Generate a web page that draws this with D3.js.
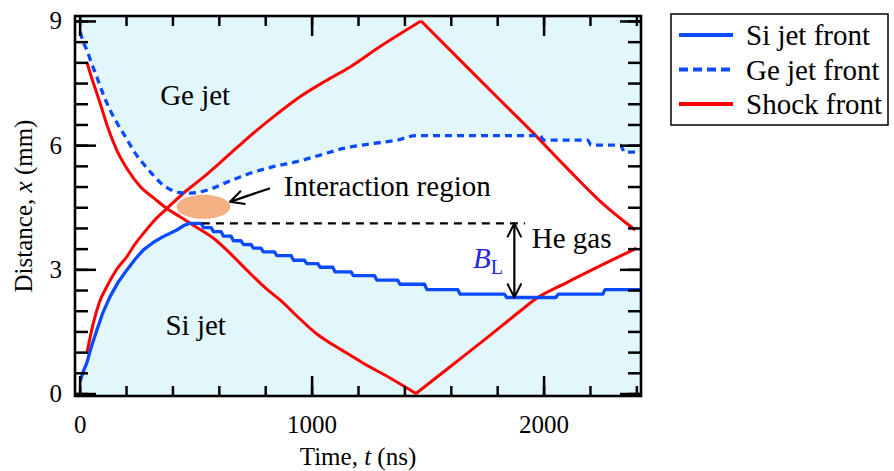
<!DOCTYPE html>
<head>
  <meta charset="utf-8">
  <script src="https://cdn.jsdelivr.net/npm/d3@7"></script>
  <style>
    body { margin:0; background:#fff; }
    svg, svg text { font-family:"Liberation Serif","Tinos","DejaVu Serif",serif; }
    svg { display:block; }
  </style>
</head>
<body>
<script>
// Si jet front: smooth rise, then the stepped plateau [tStart, tEnd, x]
var siRise = [[2,0.29],[15,0.52],[31,0.74],[50,1.12],[74,1.53],[100,1.95],[131,2.34],[165,2.68],
  [203,2.98],[240,3.25],[275,3.47],[320,3.66],[360,3.79],[419,3.95],[450,4.06]];
var siSteps = [[470,524,4.11],[534,567,4.01],[577,610,3.91],[620,653,3.80],[663,696,3.69],
  [706,739,3.60],[749,782,3.51],[792,840,3.42],[850,912,3.33],[922,969,3.22],[979,1027,3.14],
  [1037,1091,3.05],[1101,1170,2.94],[1180,1271,2.85],[1281,1371,2.74],[1381,1487,2.64],
  [1497,1630,2.51],[1640,1831,2.40],[1841,2053,2.32],[2063,2255,2.40],[2265,2420,2.51]];

// Ge jet front (dashed)
var geFront = [[2,8.74],[15,8.5],[31,8.3],[50,8.0],[74,7.65],[100,7.25],[131,6.85],[165,6.5],
  [203,6.15],[240,5.8],[275,5.55],[310,5.32],[347,5.1],[390,4.93],[433,4.85],[476,4.84],[519,4.87],
  [570,4.95],[620,5.07],[678,5.2],[735,5.32],[835,5.48],[936,5.6],[1037,5.76],[1137,5.92],
  [1252,6.03],[1367,6.12],[1453,6.23],[1985,6.23],[2000,6.12],[2190,6.12],[2205,6.0],[2330,6.0],
  [2350,5.83],[2420,5.83]];

// Shock fronts (red)
var shockA = [[31,8.01],[50,7.66],[70,7.32],[88,7.02],[120,6.45],[160,5.88],[210,5.38],[261,5.0],
  [320,4.72],[376,4.47],[433,4.27],[500,4.03],[577,3.75],[650,3.38],[721,2.98],[807,2.52],
  [864,2.26],[950,1.8],[1020,1.45],[1094,1.17],[1160,0.95],[1223,0.73],[1340,0.37],[1450,0.0],
  [1600,0.66],[1750,1.32],[1890,1.95],[1970,2.3],[2100,2.68],[2250,3.1],[2400,3.51]];
var shockB = [[32,1.0],[45,1.35],[59,1.7],[85,2.2],[117,2.58],[160,3.0],[203,3.3],[240,3.62],
  [275,3.87],[320,4.17],[376,4.47],[450,4.85],[519,5.16],[600,5.55],[680,5.95],[749,6.29],
  [850,6.75],[950,7.17],[1060,7.55],[1166,7.89],[1300,8.4],[1472,9.0],[1669,7.89],[1812,7.09],
  [1956,6.29],[2100,5.45],[2243,4.65],[2395,3.95]];

var xMajor = [0,1000,2000];
var xMinor = d3.range(0,2401,200);
var yMajor = [0,3,6,9];
var yMinor = d3.range(0,9.01,0.5);

// annotations (data units)
var blLevels = [4.11, 2.32];   // top / bottom of B_L
var blTime = 1874;
var dashSpan = [527, 1920];
var blob = {t:534, x:4.51, rt:116, rx:0.29};
var pointer = [[821,4.96],[648,4.63]];

var legendNames = ["Si jet front","Ge jet front","Shock front"];
var blue = "#0a4bff", red = "#ff0000", fill = "#e2f7fc";
var serif = '"Liberation Serif","Tinos","DejaVu Serif",serif';

var width = 894, height = 471;
var L = 75, R = 641, T = 16, B = 396;

var svg = d3.select("body").append("svg").attr("width",width).attr("height",height);

var x = d3.scaleLinear().domain([-20,2420]).range([L,R]);
var y = d3.scaleLinear().domain([-0.06,9.12]).range([B,T]);

var siFront = siRise.concat(siSteps.flatMap(function(s){ return [[s[0],s[2]],[s[1],s[2]]]; }));

// filled jet regions
svg.append("path").datum(geFront)
  .attr("d", d3.area().x(d=>x(d[0])).y0(T).y1(d=>y(d[1])).curve(d3.curveMonotoneX))
  .attr("fill", fill);
svg.append("path").datum(siFront)
  .attr("d", d3.area().x(d=>x(d[0])).y0(B).y1(d=>y(d[1])))
  .attr("fill", fill);

var line = d3.line().x(d=>x(d[0])).y(d=>y(d[1]));
var smooth = d3.line().x(d=>x(d[0])).y(d=>y(d[1])).curve(d3.curveMonotoneX);

// red curves: smooth on each side of the sharp turning point
function shock(data) {
  var k = d3.maxIndex(data, d=>Math.abs(d[1]-4.5));
  k = data[k][1] > 4.5 ? d3.maxIndex(data, d=>d[1]) : d3.minIndex(data, d=>d[1]);
  [data.slice(0,k+1), data.slice(k)].forEach(function(part){
    svg.append("path").datum(part).attr("d", smooth).attr("fill","none")
      .attr("stroke",red).attr("stroke-width",3).attr("stroke-linejoin","round");
  });
}
shock(shockA);
shock(shockB);

svg.append("path").datum(geFront).attr("d", smooth).attr("fill","none").attr("stroke",blue)
  .attr("stroke-width",3.3).attr("stroke-dasharray","7,5");
svg.append("path").datum(siFront).attr("d", line).attr("fill","none").attr("stroke",blue)
  .attr("stroke-width",3.3).attr("stroke-linejoin","round");

// dashed reference line
svg.append("line")
  .attr("x1",x(dashSpan[0])).attr("x2",x(dashSpan[1]))
  .attr("y1",y(blLevels[0])).attr("y2",y(blLevels[0]))
  .attr("stroke","#000").attr("stroke-width",2.2).attr("stroke-dasharray","8,6");

// interaction region blob
svg.append("ellipse")
  .attr("cx",x(blob.t)).attr("cy",y(blob.x))
  .attr("rx",x(blob.t+blob.rt)-x(blob.t)).attr("ry",y(blob.x-blob.rx)-y(blob.x))
  .attr("fill","#f4b184");

// arrow heads
svg.append("defs").append("marker")
  .attr("id","head").attr("viewBox","0 0 16 16").attr("refX",15).attr("refY",8)
  .attr("markerWidth",16).attr("markerHeight",16).attr("markerUnits","userSpaceOnUse")
  .attr("orient","auto-start-reverse")
  .append("path").attr("d","M1,1 L15,8 L1,15").attr("fill","none").attr("stroke","#000").attr("stroke-width",2);

svg.append("line")
  .attr("x1",x(pointer[0][0])).attr("y1",y(pointer[0][1]))
  .attr("x2",x(pointer[1][0])).attr("y2",y(pointer[1][1]))
  .attr("stroke","#000").attr("stroke-width",2.2).attr("marker-end","url(#head)");

svg.append("line")
  .attr("x1",x(blTime)).attr("x2",x(blTime))
  .attr("y1",y(blLevels[0])).attr("y2",y(blLevels[1]))
  .attr("stroke","#000").attr("stroke-width",2.2)
  .attr("marker-start","url(#head)").attr("marker-end","url(#head)");

// text labels
function label(t, v, s) {
  return svg.append("text").attr("x",x(t)).attr("y",y(v)).attr("font-size",29).text(s);
}
label(347, 6.97, "Ge jet");
label(370, 1.41, "Si jet");
label(880, 4.76, "Interaction region");
label(1949, 3.52, "He gas");

var bl = svg.append("text").attr("x",x(1696)).attr("y",y(3.03)).attr("font-size",29).attr("fill","#2424f0");
bl.append("tspan").attr("font-style","italic").text("B");
bl.append("tspan").attr("font-size",20).attr("dy",6).text("L");

// axes with inward ticks
function clean(g) {
  g.attr("font-family", serif);
  g.select(".domain").remove();
  g.selectAll("line").attr("stroke-width",2.5);
}

svg.append("g").attr("transform","translate(0,"+B+")")
  .call(d3.axisBottom(x).tickValues(xMinor).tickSize(-10).tickFormat("")).call(clean);
svg.append("g").attr("transform","translate(0,"+B+")")
  .call(d3.axisBottom(x).tickValues(xMajor).tickSize(-20).tickPadding(19).tickFormat(d3.format("d")))
  .call(clean).attr("font-size",25).selectAll("text").attr("fill","#000");
svg.append("g").attr("transform","translate(0,"+T+")")
  .call(d3.axisTop(x).tickValues(xMinor).tickSize(-10).tickFormat("")).call(clean);
svg.append("g").attr("transform","translate(0,"+T+")")
  .call(d3.axisTop(x).tickValues(xMajor).tickSize(-20).tickFormat("")).call(clean);

svg.append("g").attr("transform","translate("+L+",0)")
  .call(d3.axisLeft(y).tickValues(yMinor).tickSize(-13).tickFormat("")).call(clean);
svg.append("g").attr("transform","translate("+L+",0)")
  .call(d3.axisLeft(y).tickValues(yMajor).tickSize(-21).tickPadding(13).tickFormat(d3.format("d")))
  .call(clean).attr("font-size",25).selectAll("text").attr("fill","#000");
svg.append("g").attr("transform","translate("+R+",0)")
  .call(d3.axisRight(y).tickValues(yMinor).tickSize(-13).tickFormat("")).call(clean);
svg.append("g").attr("transform","translate("+R+",0)")
  .call(d3.axisRight(y).tickValues(yMajor).tickSize(-21).tickFormat("")).call(clean);

svg.append("rect").attr("x",L).attr("y",T).attr("width",R-L).attr("height",B-T)
  .attr("fill","none").attr("stroke","#000").attr("stroke-width",2.6);

// axis titles
var xt = svg.append("text").attr("x",(L+R)/2).attr("y",465).attr("text-anchor","middle").attr("font-size",25);
xt.append("tspan").text("Time, ");
xt.append("tspan").attr("font-style","italic").text("t");
xt.append("tspan").text(" (ns)");

var yt = svg.append("text").attr("transform","translate(32,"+((T+B)/2)+") rotate(-90)")
  .attr("text-anchor","middle").attr("font-size",25);
yt.append("tspan").text("Distance, ");
yt.append("tspan").attr("font-style","italic").text("x");
yt.append("tspan").text(" (mm)");

// legend
var lg = svg.append("g").attr("transform","translate(671,14)");
lg.append("rect").attr("width",217).attr("height",111).attr("fill","#fff").attr("stroke","#000").attr("stroke-width",1.5);
var styles = [{c:blue,d:null},{c:blue,d:"9,5"},{c:red,d:null}];
legendNames.forEach(function(n,i){
  var yy = 21 + i*34.5;
  lg.append("line").attr("x1",8).attr("x2",62).attr("y1",yy).attr("y2",yy)
    .attr("stroke",styles[i].c).attr("stroke-width",4).attr("stroke-dasharray",styles[i].d);
  lg.append("text").attr("x",75).attr("y",yy+10).attr("font-size",29).text(n);
});
</script>
</body>
